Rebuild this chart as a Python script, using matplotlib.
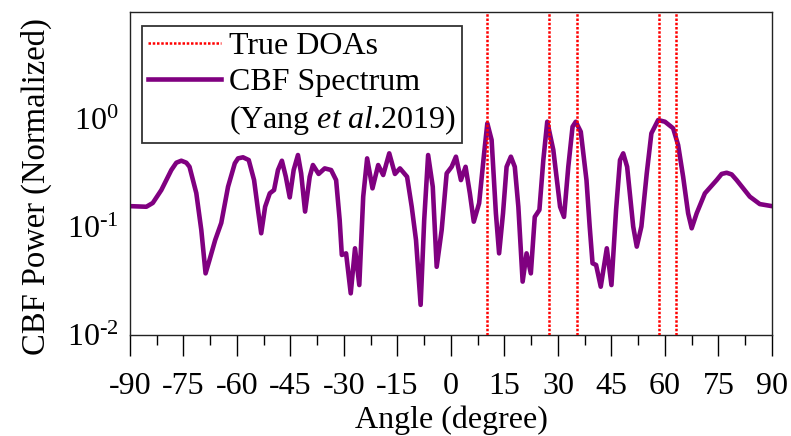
import numpy as np
import matplotlib
matplotlib.use("Agg")
import matplotlib.pyplot as plt
from matplotlib.lines import Line2D
from matplotlib.ticker import FuncFormatter

plt.rcParams['font.family'] = ['Liberation Serif', 'DejaVu Serif']
plt.rcParams['mathtext.fontset'] = 'custom'
plt.rcParams['mathtext.rm'] = 'Liberation Serif'
plt.rcParams['mathtext.it'] = 'Liberation Serif:italic'
plt.rcParams['axes.unicode_minus'] = False

# CBF spectrum (angle in degree, normalized power)
angle = [-90.0, -85.4, -83.6, -81.2, -78.4, -77.0, -75.6, -74.2, -73.3, -71.4,
         -70.0, -68.8, -67.7, -66.1, -64.4, -62.5, -60.6, -59.7, -58.3, -56.7,
         -55.2, -54.1, -53.2, -52.1, -50.8, -49.6, -48.5, -47.4, -46.3, -45.2,
         -44.1, -42.9, -42.0, -40.9, -39.6, -38.7, -37.1, -35.4, -33.6, -32.2,
         -31.2, -30.6, -29.4, -28.1, -26.9, -25.7, -24.6, -23.5, -22.0, -20.4,
         -19.0, -17.3, -15.7, -14.3, -12.3, -11.0, -9.8, -8.5, -7.5, -6.4,
         -5.1, -4.0, -2.6, -1.2, 0.2, 1.4, 2.8, 4.1, 5.3, 6.4,
         7.9, 9.3, 10.2, 11.4, 12.6, 13.5, 14.6, 15.6, 16.8, 17.9,
         18.9, 20.1, 21.2, 22.4, 23.5, 24.8, 25.9, 27.0, 28.7, 30.6,
         31.7, 32.9, 34.1, 35.0, 36.4, 38.0, 38.9, 39.7, 40.7, 42.0,
         43.7, 45.0, 46.3, 47.4, 48.3, 49.4, 51.1, 52.1, 53.4, 54.9,
         56.2, 58.1, 60.0, 62.3, 63.7, 65.1, 66.5, 67.5, 68.9, 71.2,
         74.5, 75.9, 77.3, 78.7, 80.1, 83.8, 86.6, 90.0]
power = [0.156, 0.154, 0.167, 0.220, 0.337, 0.394, 0.411, 0.394, 0.361, 0.206,
         0.0938, 0.0372, 0.0495, 0.0758, 0.109, 0.236, 0.389, 0.432, 0.442, 0.417,
         0.272, 0.144, 0.0875, 0.154, 0.205, 0.220, 0.337, 0.411, 0.292, 0.188,
         0.337, 0.464, 0.314, 0.139, 0.292, 0.375, 0.310, 0.349, 0.337, 0.272,
         0.116, 0.0551, 0.0570, 0.0243, 0.0635, 0.0290, 0.191, 0.432, 0.228, 0.375,
         0.303, 0.481, 0.310, 0.349, 0.292, 0.154, 0.0758, 0.0190, 0.116, 0.464,
         0.236, 0.0428, 0.0938, 0.314, 0.361, 0.448, 0.272, 0.361, 0.205, 0.112,
         0.166, 0.481, 0.912, 0.640, 0.134, 0.0570, 0.134, 0.361, 0.448, 0.361,
         0.154, 0.0312, 0.0570, 0.0372, 0.124, 0.144, 0.417, 0.944, 0.517, 0.154,
         0.124, 0.361, 0.849, 0.944, 0.762, 0.272, 0.101, 0.0461, 0.0445, 0.0280,
         0.0635, 0.0290, 0.144, 0.417, 0.481, 0.361, 0.101, 0.0658, 0.101, 0.314,
         0.737, 0.979, 0.944, 0.821, 0.574, 0.292, 0.134, 0.0973, 0.134, 0.205,
         0.272, 0.310, 0.318, 0.307, 0.272, 0.191, 0.163, 0.156]

true_doas = [10, 27.4, 35.4, 58.4, 63]
x_ticks = [-90, -75, -60, -45, -30, -15, 0, 15, 30, 45, 60, 75, 90]
y_ticks = [1e-2, 1e-1, 1e0]

DOT = (0, (1, 0.7))


def decade_label(v, pos):
    e = int(round(np.log10(v)))
    if e < 0:
        return r'$10^{\text{-}%d}$' % (-e)
    return r'$10^{%d}$' % e


fig = plt.figure(figsize=(7.91, 4.36), dpi=100)
ax = fig.add_axes([0.1643, 0.2317, 0.8116, 0.7408])

ax.plot(angle, power, color='purple', lw=3.3, solid_joinstyle='round',
        solid_capstyle='round', zorder=2)
for d in true_doas:
    ax.axvline(d, color='red', lw=1.8, linestyle=DOT, zorder=3)

ax.set_yscale('log')
ax.set_xlim(-90, 90)
ax.set_ylim(1e-2, 9.8)
ax.set_xticks(x_ticks)
ax.set_xticks(np.arange(-82.5, 90, 15), minor=True)
ax.set_yticks(y_ticks)
ax.set_yticks([], minor=True)
ax.yaxis.set_major_formatter(FuncFormatter(decade_label))
ax.tick_params(axis='x', which='major', direction='out', length=15, width=1,
               labelsize=23, pad=11.5)
ax.tick_params(axis='x', which='minor', direction='out', length=7.5, width=1)
ax.tick_params(axis='y', which='both', length=0, labelsize=23, pad=8)
for s in ax.spines.values():
    s.set_linewidth(1.0)
    s.set_color('#222222')

ax.set_xlabel('Angle (degree)', fontsize=23, labelpad=3.5)
ax.set_ylabel('CBF Power (Normalized)', fontsize=23.5)
ax.yaxis.set_label_coords(-0.122, 0.458)

handles = [Line2D([], [], color='red', lw=1.8, linestyle=DOT),
           Line2D([], [], color='purple', lw=3.3),
           Line2D([], [], color='none')]
labels = ['True DOAs', 'CBF Spectrum', r'(Yang $\mathit{et\ al}$.2019)']
leg = ax.legend(handles, labels, loc='upper left',
                bbox_to_anchor=(0.019, 0.957), borderaxespad=0,
                fontsize=23, frameon=True, fancybox=False, framealpha=1,
                edgecolor='#333333', handlelength=2.3, handletextpad=0.25,
                labelspacing=0.2, borderpad=0.18)
leg.get_frame().set_linewidth(1.3)

fig.savefig('out.png', dpi=100)
